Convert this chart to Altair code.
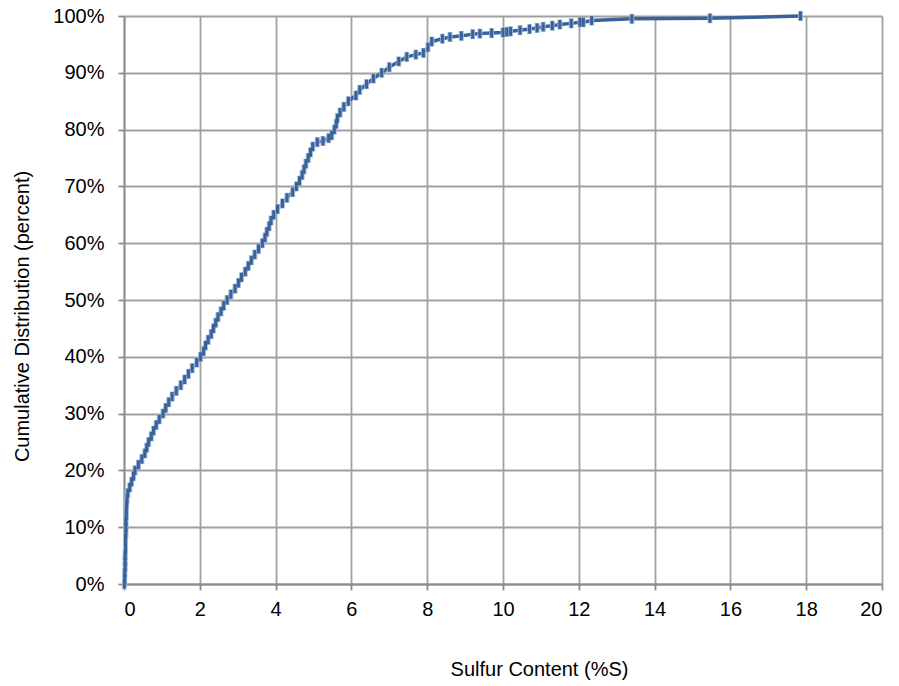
import altair as alt
import pandas as pd

# Sulfur content (%S) and cumulative distribution (%)
sulfur = [0.01, 0.02, 0.02, 0.03, 0.03, 0.03, 0.04, 0.04, 0.04, 0.05, 0.05,
          0.05, 0.06, 0.06, 0.07, 0.08,
          0.10, 0.15, 0.20, 0.25, 0.29, 0.38, 0.47, 0.55, 0.60, 0.65, 0.72,
          0.78, 0.85, 0.93, 1.03, 1.10, 1.18, 1.27, 1.38, 1.50, 1.60, 1.70,
          1.80, 1.92, 2.02, 2.10, 2.15, 2.22, 2.30, 2.36, 2.42, 2.48, 2.56,
          2.63, 2.72, 2.82, 2.93, 3.02, 3.10, 3.20, 3.28, 3.36, 3.45, 3.55,
          3.65, 3.72, 3.77, 3.83, 3.88, 3.95, 4.05, 4.18, 4.30, 4.45, 4.55,
          4.63, 4.70, 4.75, 4.80, 4.86, 4.92, 4.98, 5.10, 5.25, 5.40, 5.48,
          5.55, 5.60, 5.63, 5.70, 5.80, 5.92, 6.12, 6.22, 6.40, 6.58, 6.80,
          7.00, 7.25, 7.46, 7.70, 7.90, 8.02, 8.12, 8.40, 8.60, 8.90, 9.20,
          9.39, 9.70, 10.00, 10.10, 10.20, 10.45, 10.70, 10.90, 11.06, 11.30,
          11.50, 11.80, 12.03, 12.12, 12.34, 13.40, 15.46, 17.85]
cumulative = [0, 1, 2, 3, 4, 5, 6, 7, 8, 9, 10, 11, 12, 13, 14, 15,
              16, 17, 18, 19, 20, 21, 22, 23, 24, 25, 26,
              27, 28, 29, 30, 31, 32, 33, 34, 35, 36, 37,
              38, 39, 40, 41, 42, 43, 44, 45, 46, 47, 48,
              49, 50, 51, 52, 53, 54, 55, 56, 57, 58, 59,
              60, 61, 62, 63, 64, 65, 66, 67, 68, 69, 70,
              71, 72, 73, 74, 75, 76, 77, 77.8, 78, 78.5, 79,
              80, 81, 82, 83, 84, 85, 86, 87, 88, 89, 90,
              91, 92, 92.8, 93.2, 93.5, 94.5, 95.5, 96, 96.3, 96.5, 96.8,
              96.9, 97.0, 97.1, 97.2, 97.3, 97.5, 97.7, 97.9, 98.1, 98.3,
              98.5, 98.7, 98.9, 98.9, 99.2, 99.5, 99.6, 100]

x_ticks = [0, 2, 4, 6, 8, 10, 12, 14, 16, 18, 20]
y_ticks = [0, 0.1, 0.2, 0.3, 0.4, 0.5, 0.6, 0.7, 0.8, 0.9, 1.0]

df = pd.DataFrame({
    "S": sulfur,
    "cum": [c / 100 for c in cumulative],
    "i": list(range(len(sulfur))),
})

LINE = "#3A6299"

x_enc = alt.X(
    "S:Q",
    scale=alt.Scale(domain=[0, 20], nice=False, zero=True),
    axis=alt.Axis(
        values=x_ticks,
        title="Sulfur Content (%S)",
        titleX=415,
        titleY=85,
        titleBaseline="middle",
        titleAnchor="start",
        titleAlign="center",
        labelPadding=9,
    ),
)
y_enc = alt.Y(
    "cum:Q",
    scale=alt.Scale(domain=[0, 1], nice=False),
    axis=alt.Axis(
        values=y_ticks,
        format=".0%",
        title="Cumulative Distribution (percent)",
        titleX=-102,
        titleY=300,
        titleBaseline="middle",
        titleAlign="center",
        titleAnchor="start",
        labelPadding=14,
    ),
)

line = alt.Chart(df).mark_line(color=LINE, strokeWidth=3.5).encode(
    x=x_enc, y=y_enc, order="i:Q"
)
halo = alt.Chart(df).mark_tick(
    orient="vertical", color="#9FB8DA", thickness=5, size=10, opacity=0.9
).encode(x="S:Q", y="cum:Q")
ticks = alt.Chart(df).mark_tick(
    orient="vertical", color=LINE, thickness=3, size=9, opacity=1
).encode(x="S:Q", y="cum:Q")

chart = (
    alt.layer(line, halo, ticks)
    .properties(
        width=758,
        height=568,
        autosize=alt.AutoSizeParams(type="none"),
        padding={"left": 116, "top": 8, "right": 9, "bottom": 100},
        background="white",
    )
    .configure_view(strokeWidth=0)
    .configure_axis(
        labelFont="Liberation Sans",
        titleFont="Liberation Sans",
        labelFontSize=20,
        titleFontSize=20,
        labelColor="#000000",
        titleColor="#000000",
        titleFontWeight="normal",
        gridColor="#A0A0A0",
        gridWidth=1.8,
        gridOpacity=1,
        domainColor="#8C8C8C",
        domainWidth=1.8,
        tickColor="#8C8C8C",
        tickWidth=1.8,
        tickSize=6,
    )
)

chart.save("out.html", embed_options={"renderer": "svg", "actions": False})
